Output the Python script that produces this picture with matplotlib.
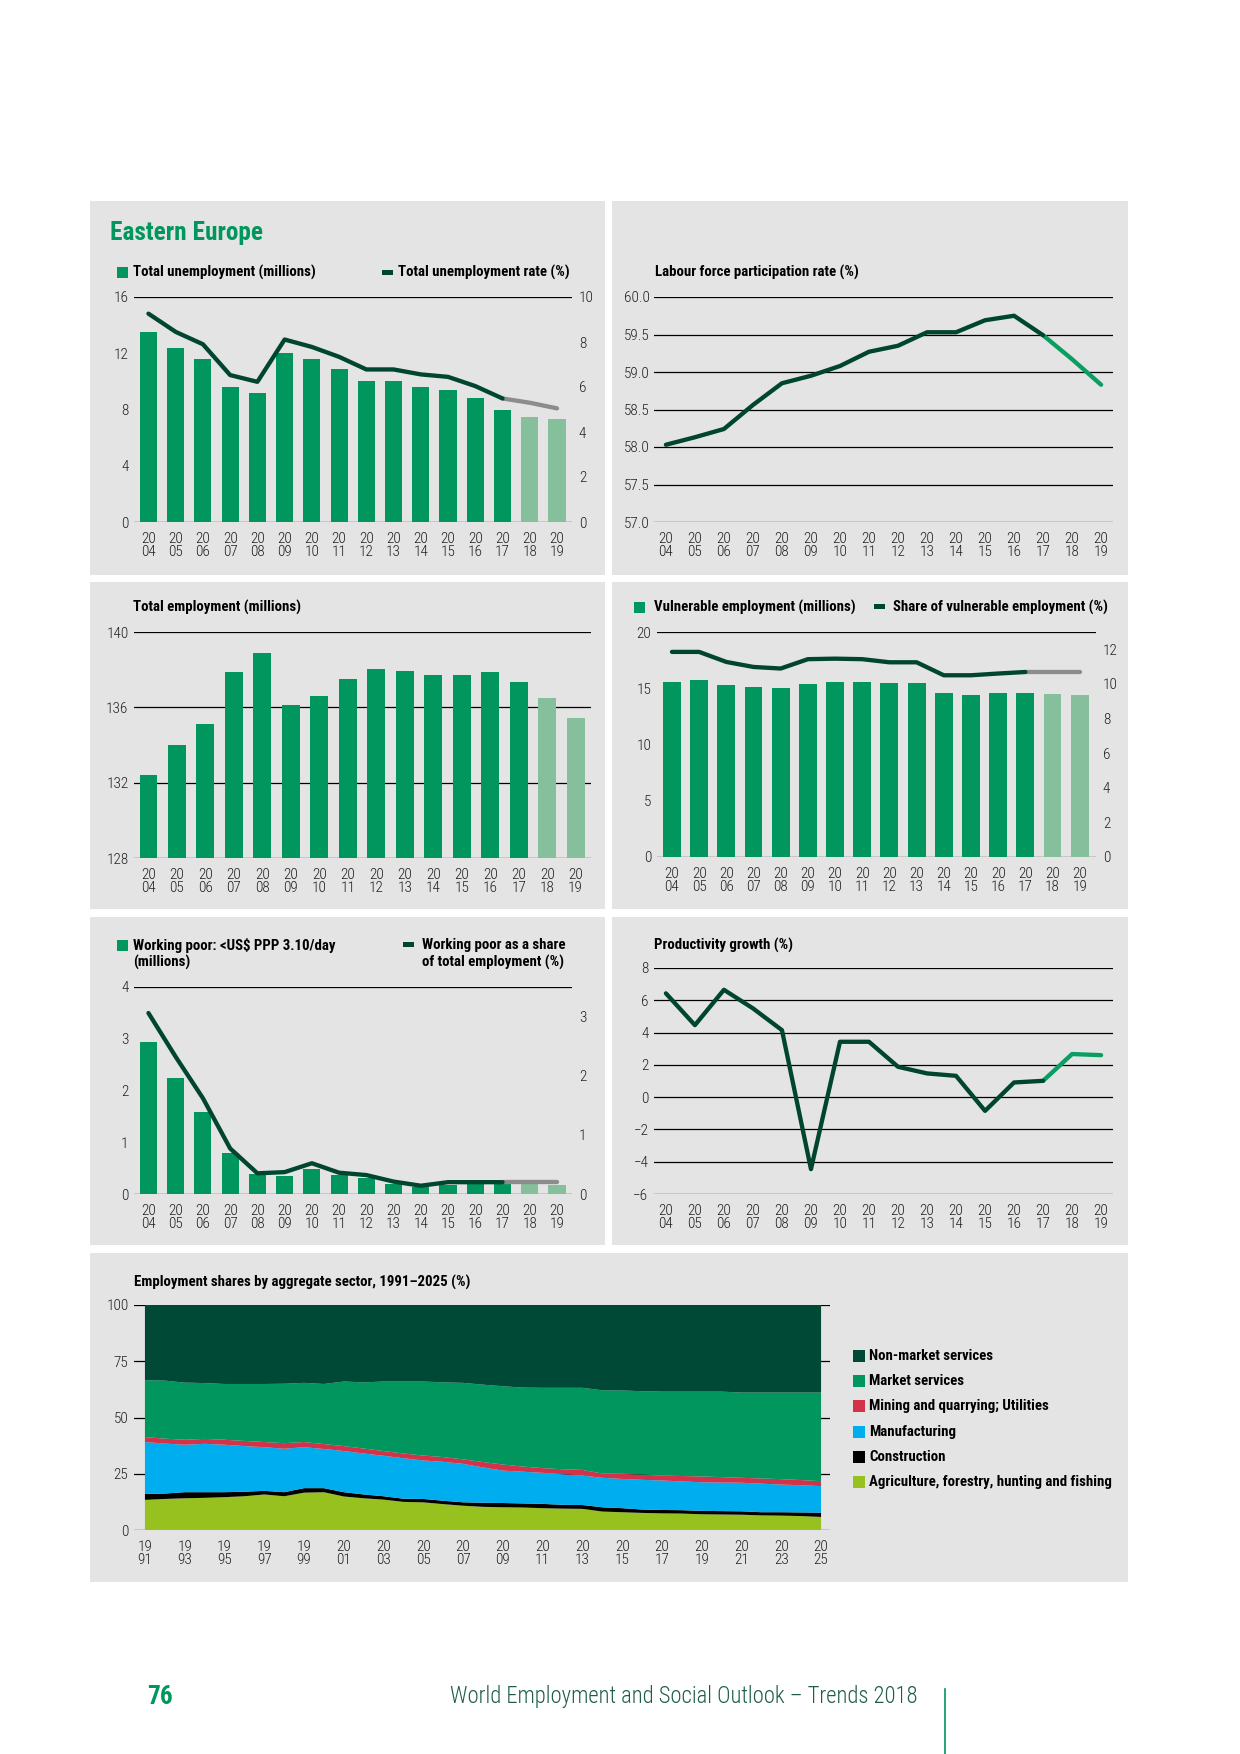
import matplotlib
matplotlib.use('Agg')
import matplotlib.pyplot as plt
from matplotlib import font_manager
from matplotlib.patches import Rectangle
import numpy as np

# narrowest family that is installed; sizes tuned for Roboto, scaled for narrow fonts
available = {f.name for f in font_manager.fontManager.ttflist}
if 'Liberation Sans Narrow' in available:
    FAMILY, K = 'Liberation Sans Narrow', 1.12
elif 'Roboto Condensed' in available:
    FAMILY, K = 'Roboto Condensed', 1.1
else:
    FAMILY, K = 'Roboto', 1.0
plt.rcParams['font.family'] = [FAMILY, 'DejaVu Sans']

W, H = 1240, 1754

# ── data ─────────────────────────────────────────────────────────────────────
years = list(range(2004, 2020))
year_labels = [f'{str(y)[:2]}\n{str(y)[2:]}' for y in years]
n_est = 2  # 2018, 2019 are projections

unemp_millions = [13.5, 12.4, 11.6, 9.6, 9.2, 12.0, 11.6, 10.9, 10.0, 10.0, 9.6, 9.4, 8.8, 8.0, 7.5, 7.3]
unemp_rate = [9.26, 8.45, 7.90, 6.53, 6.23, 8.11, 7.78, 7.34, 6.78, 6.78, 6.56, 6.45, 6.04, 5.49, 5.30, 5.05]

lfpr = [58.03, 58.13, 58.24, 58.56, 58.85, 58.95, 59.08, 59.27, 59.35, 59.53, 59.53, 59.69, 59.75, 59.49, 59.17, 58.83]

employment = [132.4, 134.0, 135.1, 137.9, 138.9, 136.1, 136.6, 137.5, 138.05, 137.95, 137.7, 137.7, 137.9, 137.35, 136.5, 135.45]

vuln_millions = [15.6, 15.7, 15.3, 15.1, 15.0, 15.4, 15.55, 15.6, 15.45, 15.45, 14.55, 14.4, 14.55, 14.55, 14.5, 14.4]
vuln_share = [11.85, 11.85, 11.27, 10.98, 10.89, 11.43, 11.46, 11.43, 11.25, 11.25, 10.50, 10.50, 10.60, 10.69, 10.69, 10.69]

wpoor_millions = [2.94, 2.24, 1.58, 0.79, 0.39, 0.35, 0.49, 0.37, 0.30, 0.20, 0.14, 0.17, 0.19, 0.19, 0.19, 0.17]
wpoor_share = [3.06, 2.32, 1.62, 0.77, 0.35, 0.37, 0.52, 0.36, 0.32, 0.21, 0.14, 0.20, 0.20, 0.20, 0.20, 0.20]

productivity = [6.43, 4.46, 6.65, 5.50, 4.15, -4.46, 3.43, 3.43, 1.88, 1.47, 1.32, -0.85, 0.91, 1.01, 2.67, 2.60]

sector_years = list(range(1991, 2026))
agriculture = [13.4, 13.8, 14.1, 14.3, 14.6, 15.0, 15.8, 15.0, 16.6, 16.8, 14.9, 14.1, 13.5, 12.5, 12.3, 11.5, 10.8, 10.3,
               10.1, 10.0, 9.7, 9.5, 9.4, 8.2, 7.9, 7.6, 7.4, 7.3, 7.0, 6.9, 6.8, 6.5, 6.4, 6.2, 5.8]
construction = [2.6, 2.4, 2.7, 2.5, 2.2, 2.0, 1.6, 1.8, 2.0, 1.8, 1.9, 1.7, 1.5, 1.4, 1.5, 1.5, 1.5, 1.8,
                1.9, 1.8, 1.9, 1.7, 1.7, 1.9, 1.8, 1.5, 1.5, 1.5, 1.5, 1.5, 1.5, 1.4, 1.5, 1.6, 1.9]
manufacturing = [23.1, 22.2, 21.1, 21.5, 21.1, 20.3, 19.4, 19.3, 18.2, 17.4, 18.3, 18.2, 18.0, 18.0, 17.1, 17.3, 17.1, 15.7,
                 14.4, 14.1, 13.8, 13.6, 13.1, 13.1, 13.0, 13.2, 13.1, 12.8, 12.7, 12.7, 12.7, 12.7, 12.3, 12.1, 11.8]
mining_utilities = [2.2, 2.2, 2.2, 2.2, 2.2, 2.3, 2.3, 2.5, 2.3, 2.2, 2.2, 2.2, 2.1, 2.1, 2.2, 2.1, 2.0, 2.4,
                    2.7, 2.3, 2.1, 2.2, 2.5, 1.9, 2.3, 2.3, 2.2, 2.4, 2.6, 2.4, 2.2, 2.3, 2.4, 2.3, 2.2]
market_services = [25.3, 25.8, 25.4, 24.8, 24.8, 25.3, 25.8, 26.4, 26.3, 26.7, 28.7, 29.4, 30.9, 32.0, 32.9, 33.2, 34.0, 34.4,
                   34.8, 35.1, 35.7, 36.2, 36.5, 37.0, 37.0, 37.1, 37.3, 37.5, 37.7, 38.0, 37.9, 38.2, 38.5, 38.9, 39.4]
nonmarket_services = [33.4, 33.6, 34.5, 34.7, 35.1, 35.1, 35.1, 35.0, 34.6, 35.1, 34.0, 34.4, 34.0, 34.0, 34.0, 34.4, 34.6, 35.4,
                      36.1, 36.7, 36.8, 36.8, 36.8, 37.9, 38.0, 38.3, 38.5, 38.5, 38.5, 38.5, 38.9, 38.9, 38.9, 38.9, 38.9]
sector_names = ['Non-market services', 'Market services', 'Mining and quarrying; Utilities',
                'Manufacturing', 'Construction', 'Agriculture, forestry, hunting and fishing']

# ── style ────────────────────────────────────────────────────────────────────
BG = '#e3e4e3'
GREEN = '#00965e'
LIGHT = '#86bf9b'
DARK = '#00452f'
GREY = '#8c8c8c'
BRIGHT = '#0a9e63'
TXT = '#231f20'
LW = 3.1
TICK_FS = 10 * K
LAB_FS = 9.75 * K

fig = plt.figure(figsize=(W / 100, H / 100), dpi=100)
fig.patch.set_facecolor('white')


def box(x0, y0, x1, y1):
    return [x0 / W, 1 - y1 / H, (x1 - x0) / W, (y1 - y0) / H]


def panel(x0, y0, x1, y1):
    fig.add_artist(Rectangle((x0 / W, 1 - y1 / H), (x1 - x0) / W, (y1 - y0) / H,
                             transform=fig.transFigure, facecolor=BG, edgecolor='none', zorder=0))


def ftext(x, y, s, **kw):
    kw.setdefault('fontsize', LAB_FS)
    kw.setdefault('fontweight', 'bold')
    kw.setdefault('color', 'black')
    kw.setdefault('va', 'center')
    fig.text(x / W, 1 - y / H, s, **kw)


def legend_square(x, y, color, w=11, h=11):
    fig.add_artist(Rectangle((x / W, 1 - (y + h / 2) / H), w / W, h / H,
                             transform=fig.transFigure, facecolor=color, edgecolor='none'))


def legend_dash(x, y, color=DARK):
    fig.add_artist(Rectangle((x / W, 1 - (y + 2.5) / H), 11 / W, 5 / H,
                             transform=fig.transFigure, facecolor=color, edgecolor='none'))


def style_ticks(ax, axis, pad):
    ax.tick_params(axis=axis, length=0, pad=pad, labelsize=TICK_FS, labelcolor=TXT)
    labels = ax.get_yticklabels() if axis == 'y' else ax.get_xticklabels()
    for t in labels:
        t.set_fontweight('light')


def base_axes(rect, xlim, ylim, yticks, grid_at, ylabels=None, pad=4):
    ax = fig.add_axes(rect)
    ax.set_facecolor('none')
    ax.set_xlim(*xlim)
    ax.set_ylim(*ylim)
    for s in ax.spines.values():
        s.set_visible(False)
    ax.set_yticks(yticks)
    if ylabels is not None:
        ax.set_yticklabels(ylabels)
    ax.set_xticks(range(len(years)))
    ax.set_xticklabels(year_labels, linespacing=0.92)
    style_ticks(ax, 'y', pad)
    style_ticks(ax, 'x', 7)
    for g in grid_at:
        ax.axhline(g, color='black', lw=0.9, zorder=1)
    return ax


def right_axis(ax, ylim, yticks):
    r = ax.twinx()
    r.set_ylim(*ylim)
    r.set_yticks(yticks)
    for s in r.spines.values():
        s.set_visible(False)
    style_ticks(r, 'y', 5)
    return r


def split_line(ax, vals, c_hist, c_proj):
    x = np.arange(len(vals))
    k = len(vals) - n_est
    ax.plot(x[k - 1:], vals[k - 1:], color=c_proj, lw=LW, solid_capstyle='round', zorder=4)
    ax.plot(x[:k], vals[:k], color=c_hist, lw=LW, solid_capstyle='round', solid_joinstyle='round', zorder=5)


bar_colors = [GREEN] * (len(years) - n_est) + [LIGHT] * n_est

# ── panel backgrounds ────────────────────────────────────────────────────────
panel(90, 201, 605, 575)
panel(612, 201, 1128, 575)
panel(90, 582, 605, 909)
panel(612, 582, 1128, 909)
panel(90, 917, 605, 1245)
panel(612, 917, 1128, 1245)
panel(90, 1253, 1128, 1582)

# ── 1. unemployment ──────────────────────────────────────────────────────────
ftext(110, 233, 'Eastern Europe', fontsize=16.5 * K, color=GREEN)
legend_square(117, 272, GREEN)
ftext(133, 272, 'Total unemployment (millions)')
legend_dash(382, 272)
ftext(398, 272, 'Total unemployment rate (%)')
ax = base_axes(box(134, 297, 572, 522), (-0.53, 15.55), (0, 16), [0, 4, 8, 12, 16], [0, 16])
ax.bar(range(len(years)), unemp_millions, width=0.63, color=bar_colors, zorder=2)
r = right_axis(ax, (0, 10), [0, 2, 4, 6, 8, 10])
split_line(r, unemp_rate, DARK, GREY)

# ── 2. labour force participation ────────────────────────────────────────────
ftext(655, 272, 'Labour force participation rate (%)')
ax = base_axes(box(654, 297, 1113, 522), (-0.41, 15.41), (57, 60),
               [57, 57.5, 58, 58.5, 59, 59.5, 60], [57, 57.5, 58, 58.5, 59, 59.5, 60],
               ylabels=['57.0', '57.5', '58.0', '58.5', '59.0', '59.5', '60.0'], pad=3)
split_line(ax, lfpr, DARK, BRIGHT)

# ── 3. total employment ──────────────────────────────────────────────────────
ftext(133, 607, 'Total employment (millions)')
ax = base_axes(box(134, 632, 591, 858), (-0.51, 15.54), (128, 140), [128, 132, 136, 140], [128, 132, 136, 140])
ax.bar(range(len(years)), employment, width=0.63, color=bar_colors, zorder=2)

# ── 4. vulnerable employment ─────────────────────────────────────────────────
legend_square(634, 607, GREEN)
ftext(654, 607, 'Vulnerable employment (millions)')
legend_dash(874, 607)
ftext(893, 607, 'Share of vulnerable employment (%)')
ax = base_axes(box(657, 632, 1096, 857), (-0.55, 15.6), (0, 20), [0, 5, 10, 15, 20], [0, 20])
ax.bar(range(len(years)), vuln_millions, width=0.66, color=bar_colors, zorder=2)
r = right_axis(ax, (0, 13), [0, 2, 4, 6, 8, 10, 12])
split_line(r, vuln_share, DARK, GREY)

# ── 5. working poor ──────────────────────────────────────────────────────────
legend_square(117, 945, GREEN)
ftext(133, 954, 'Working poor: <US$ PPP 3.10/day\n(millions)', linespacing=1.25)
legend_dash(403, 945)
ftext(422, 954, 'Working poor as a share\nof total employment (%)', linespacing=1.25)
ax = base_axes(box(134, 987, 572, 1194), (-0.53, 15.55), (0, 4), [0, 1, 2, 3, 4], [0, 4])
ax.bar(range(len(years)), wpoor_millions, width=0.63, color=bar_colors, zorder=2)
r = right_axis(ax, (0, 3.5), [0, 1, 2, 3])
split_line(r, wpoor_share, DARK, GREY)

# ── 6. productivity ──────────────────────────────────────────────────────────
ftext(654, 945, 'Productivity growth (%)')
ax = base_axes(box(654, 968, 1113, 1194), (-0.41, 15.41), (-6, 8),
               [-6, -4, -2, 0, 2, 4, 6, 8], [-6, -4, -2, 0, 2, 4, 6, 8],
               ylabels=['\u22126', '\u22124', '\u22122', '0', '2', '4', '6', '8'])
split_line(ax, productivity, DARK, BRIGHT)

# ── 7. sector shares ─────────────────────────────────────────────────────────
ftext(134, 1282, 'Employment shares by aggregate sector, 1991\u20132025 (%)')
ax = fig.add_axes(box(134, 1305, 830, 1530))
ax.set_facecolor('none')
ax.set_xlim(1990.45, 2025.45)
ax.set_ylim(0, 100)
for s in ax.spines.values():
    s.set_visible(False)
for g in [0, 25, 50, 75, 100]:
    ax.axhline(g, color='black', lw=0.9, zorder=1)
sector_colors = ['#97c11f', '#000000', '#00aeef', '#d2334a', GREEN, '#004937']
ax.stackplot(sector_years, agriculture, construction, manufacturing, mining_utilities,
             market_services, nonmarket_services, colors=sector_colors, lw=0, zorder=2)
ax.set_yticks([0, 25, 50, 75, 100])
ax.set_xticks(sector_years[::2])
ax.set_xticklabels([f'{str(y)[:2]}\n{str(y)[2:]}' for y in sector_years[::2]], linespacing=0.92)
style_ticks(ax, 'y', 4)
style_ticks(ax, 'x', 7)

leg_y = [1356, 1381, 1406, 1432, 1457, 1482]
for name, col, y in zip(sector_names, sector_colors[::-1], leg_y):
    legend_square(853, y, col, w=12, h=12)
    ftext(869, y, name)

# ── footer ───────────────────────────────────────────────────────────────────
ftext(147, 1697, '76', fontsize=16.5 * K, color=GREEN)
ftext(450, 1697, 'World Employment and Social Outlook \u2013 Trends 2018', fontsize=14.8 * K,
      fontweight='light', color='#1f5e43')
fig.add_artist(plt.Line2D([945 / W, 945 / W], [0, 1 - 1689 / H], transform=fig.transFigure,
                          color=GREEN, lw=1.2))

fig.savefig('out.png', dpi=100, facecolor='white')
